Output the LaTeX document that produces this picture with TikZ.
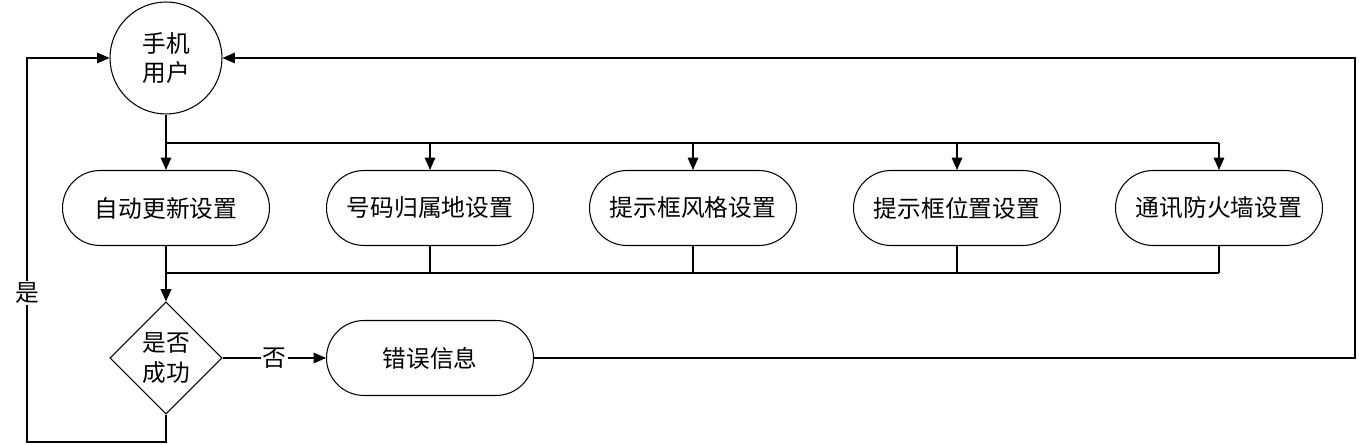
\documentclass[tikz,border=0pt]{standalone}
\usepackage{fontspec}
\setmainfont{Noto Sans CJK SC}
\usetikzlibrary{arrows.meta,shapes.geometric,shapes.misc}

\begin{document}
\begin{tikzpicture}[x=0.02cm,y=-0.02cm,
    font=\fontsize{13.5}{17}\selectfont,
    line width=0.6pt,
    >={Triangle[length=7pt,width=6pt]},
    setbox/.style={draw, rounded rectangle, minimum width=4.14cm, minimum height=1.5cm, inner sep=0pt},
    bus/.style={line width=1pt}]
    \useasboundingbox (0,0) rectangle (1359,445);

    % User
    \node[draw, circle, minimum size=2.24cm, inner sep=0pt, align=center] (user) at (166,58) {手机\\用户};

    % Settings
    \node[setbox] (auto) at (166,208) {自动更新设置};
    \node[setbox] (place) at (430,208) {号码归属地设置};
    \node[setbox] (style) at (693,208) {提示框风格设置};
    \node[setbox] (pos) at (957,208) {提示框位置设置};
    \node[setbox] (wall) at (1219,208) {通讯防火墙设置};

    % Check and error
    \node[draw, diamond, minimum size=2.24cm, inner sep=0pt, align=center] (check) at (166,358) {是否\\成功};
    \node[setbox] (error) at (430,358) {错误信息};

    % Helper points
    \coordinate (bustop) at (166,143);
    \coordinate (busbot) at (166,273);
    \coordinate (yesbot) at (166,442);
    \coordinate (yesleft) at (27,442);
    \coordinate (backright) at (1355,58);

    % Connections
    \draw[bus] (user.south) -- (bustop) -- (bustop -| wall.north);
    \draw[->] (bustop) -- (auto.north);
    \draw[->] (bustop -| place.north) -- (place.north);
    \draw[->] (bustop -| style.north) -- (style.north);
    \draw[->] (bustop -| pos.north) -- (pos.north);
    \draw[->] (bustop -| wall.north) -- (wall.north);
    \draw[bus] (busbot) -- (busbot -| wall.south);
    \draw (place.south) -- (busbot -| place.south);
    \draw (style.south) -- (busbot -| style.south);
    \draw (pos.south) -- (busbot -| pos.south);
    \draw (wall.south) -- (busbot -| wall.south);
    \draw[->, bus] (auto.south) -- (check.north);
    \draw[->] (check.east) -- node[fill=white, inner sep=1pt] {否} (error.west);
    \draw[->] (check.south) -- (yesbot) -- (yesleft) |- (user.west);
    \node[fill=white, inner sep=1pt] (yes) at (27,293) {是};
    \draw[->] (error.east) -- (error.east -| backright) -- (backright) -- (user.east);
\end{tikzpicture}
\end{document}
